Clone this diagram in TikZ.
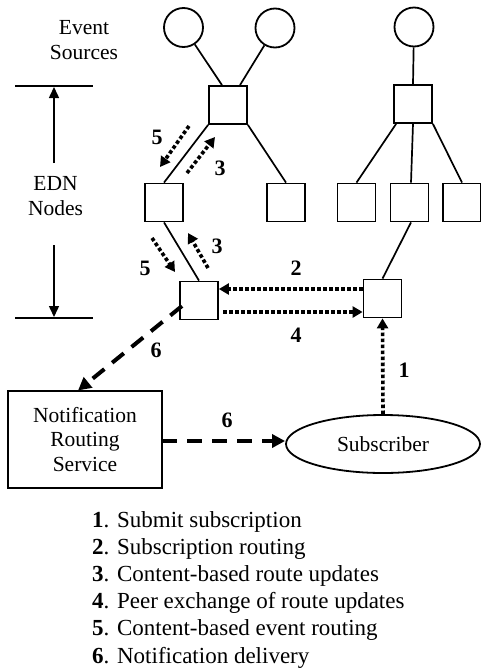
\documentclass[tikz,border=0pt]{standalone}
\usepackage{fontspec}
\setmainfont{Liberation Serif}
\usetikzlibrary{arrows.meta,shapes.geometric,calc}
\begin{document}
\begin{tikzpicture}[x=1pt,y=-1pt,
  every node/.style={font=\fontsize{21.5}{24.5}\selectfont},
  box/.style={draw, line width=1.8pt, minimum size=38pt, inner sep=0pt},
  src/.style={draw, circle, line width=1.8pt, minimum size=39pt, inner sep=0pt},
  tree/.style={line width=1.7pt},
  dotarr/.style={line width=3.6pt, dash pattern=on 3.6pt off 2.4pt, -{Triangle[length=10pt,width=11pt]}},
  dasharr/.style={line width=4pt, dash pattern=on 15pt off 10pt, -{Triangle[length=13pt,width=13pt]}},
  num/.style={font=\fontsize{22}{24}\selectfont\bfseries, inner sep=0pt},
  legend/.style={font=\fontsize{23}{27}\selectfont, anchor=base west, inner sep=0pt},
  marker/.style={line width=1.5pt},
  markarr/.style={line width=1.5pt, -{Triangle[length=11pt,width=10pt]}},
]
\path[use as bounding box, clip] (0,0) rectangle (481,670);

% event sources
\node[src] (c1) at (183.5,27.5) {};
\node[src] (c2) at (275,28) {};
\node[src] (c3) at (414,27) {};
\node[align=center] (evs) at (84,40) {Event\\Sources};

% EDN nodes
\node[box] (s1) at (228,105) {};
\node[box] (s2) at (413,104) {};
\node[box] (A) at (164,202.5) {};
\node[box] (B) at (286,202.5) {};
\node[box] (C) at (356.5,202.5) {};
\node[box] (D) at (409.5,202.5) {};
\node[box] (E) at (462,202.5) {};
\node[box] (F) at (199,300.5) {};
\node[box] (G) at (382.5,298.5) {};

% tree lines
\draw[tree] (c1) -- ([xshift=-6pt]s1.north);
\draw[tree] (c2) -- ([xshift=12pt]s1.north);
\draw[tree] (c3) -- (s2.north);
\draw[tree] (s1.south west) -- (A.north);
\draw[tree] (s1.south east) -- (B.north);
\draw[tree] ([xshift=3pt]s2.south west) -- (C.north);
\draw[tree] (s2.south) -- ([xshift=1.5pt]D.north);
\draw[tree] (s2.south east) -- (E.north);
\draw[tree] (A.south) -- (F.north);
\draw[tree] ([xshift=1.5pt]D.south) -- (G.north);

% side marker
\node[align=center] (edn) at (55.5,196) {EDN\\Nodes};
\coordinate (mt1) at (15,86);
\coordinate (mt2) at (93,86);
\coordinate (mb1) at (15,318);
\coordinate (mb2) at (93,318);
\draw[marker] (mt1) -- (mt2);
\draw[marker] (mb1) -- (mb2);
\coordinate (mua) at (54,163);
\coordinate (mub) at (54,87);
\coordinate (mda) at (54,245);
\coordinate (mdb) at (54,317);
\draw[markarr] (mua) -- (mub);
\draw[markarr] (mda) -- (mdb);

% dotted arrows along tree
\coordinate (a5us) at (189,126);
\coordinate (a5ue) at (160,167);
\coordinate (a3us) at (187,173);
\coordinate (a3ue) at (215,137);
\coordinate (a5ls) at (152,238);
\coordinate (a5le) at (175,272);
\coordinate (a3ls) at (208,268);
\coordinate (a3le) at (188,233);
\draw[dotarr] (a5us) -- (a5ue);
\draw[dotarr] (a3us) -- (a3ue);
\draw[dotarr] (a5ls) -- (a5le);
\draw[dotarr] (a3ls) -- (a3le);
\node[num] (l5u) at (157,137) {5};
\node[num] (l3u) at (220,168) {3};
\node[num] (l3l) at (217,246) {3};
\node[num] (l5l) at (145,268) {5};

% peer exchange
\coordinate (a2s) at (363,289);
\coordinate (a4s) at (223,312);
\draw[dotarr] (a2s) -- (F.east |- a2s);
\draw[dotarr] (a4s) -- (G.west |- a4s);
\node[num] (l2) at (296,268) {2};
\node[num] (l4) at (296,335) {4};

% NRS and subscriber
\node[draw, line width=1.8pt, minimum width=154pt, minimum height=97pt, align=center, inner sep=0pt] (nrs) at (85,439.5) {Notification\\Routing\\Service};
\node[draw, ellipse, line width=1.8pt, minimum width=194pt, minimum height=58pt, inner sep=0pt] (sub) at (383,444) {Subscriber};

\draw[dotarr] (sub.north) -- (G.south);
\node[num] (l1) at (404,370) {1};

\coordinate (d6s) at (182,306);
\coordinate (d6e) at (78,390.5);
\draw[dasharr] (d6s) -- (d6e);
\node[num] (l6a) at (156,350) {6};
\coordinate (h6s) at (162,441);
\draw[dasharr] (h6s) -- (h6s -| sub.west);
\node[num] (l6b) at (227,420) {6};

% legend
\node[legend] (g1) at (92,527) {\textbf{1}. Submit subscription};
\node[legend] (g2) at (92,554) {\textbf{2}. Subscription routing};
\node[legend] (g3) at (92,581) {\textbf{3}. Content-based route updates};
\node[legend] (g4) at (92,608) {\textbf{4}. Peer exchange of route updates};
\node[legend] (g5) at (92,635) {\textbf{5}. Content-based event routing};
\node[legend] (g6) at (92,663) {\textbf{6}. Notification delivery};
\end{tikzpicture}
\end{document}
